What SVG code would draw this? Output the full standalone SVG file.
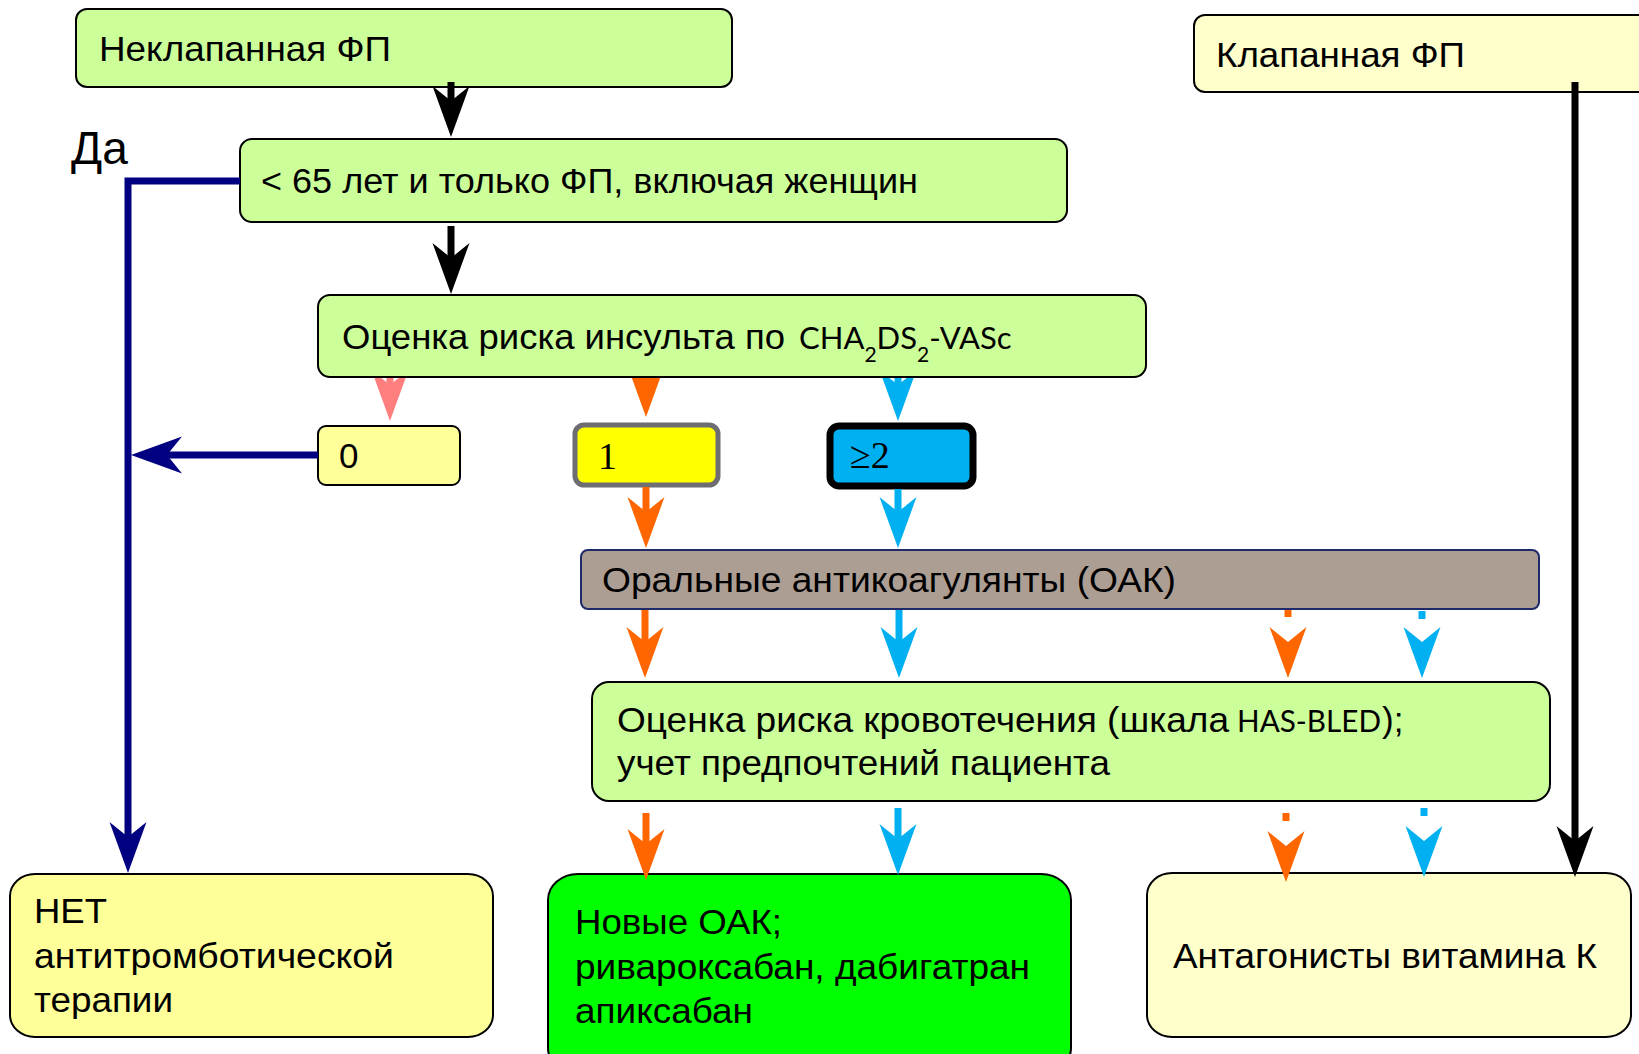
<svg xmlns="http://www.w3.org/2000/svg" width="1639" height="1054" viewBox="0 0 1639 1054">
<style>
.t{font-family:"Liberation Sans",Arial,sans-serif;font-size:35px;fill:#000}
.c{font-family:Lato,"Open Sans",sans-serif;font-size:31px;fill:#000}
.s{font-family:"Liberation Serif","Times New Roman",serif;font-size:38px;fill:#000}
.box{stroke:#000;stroke-width:2}
.g{fill:#ccff99}
.ly{fill:#ffff99}
.cr{fill:#ffffcc}
.ln{fill:none;stroke-width:7}
</style>
<defs>
<marker id="hk" markerUnits="userSpaceOnUse" viewBox="-16 -20 53 40" markerWidth="53" markerHeight="40" refX="0" refY="0" orient="auto"><path d="M36 0 L-15 -18.5 L0 0 L-15 18.5 Z" fill="#000"/></marker>
<marker id="hn" markerUnits="userSpaceOnUse" viewBox="-16 -20 53 40" markerWidth="53" markerHeight="40" refX="0" refY="0" orient="auto"><path d="M36 0 L-15 -18.5 L0 0 L-15 18.5 Z" fill="#000080"/></marker>
<marker id="ho" markerUnits="userSpaceOnUse" viewBox="-16 -20 53 40" markerWidth="53" markerHeight="40" refX="0" refY="0" orient="auto"><path d="M36 0 L-15 -18.5 L0 0 L-15 18.5 Z" fill="#ff6600"/></marker>
<marker id="hb" markerUnits="userSpaceOnUse" viewBox="-16 -20 53 40" markerWidth="53" markerHeight="40" refX="0" refY="0" orient="auto"><path d="M36 0 L-15 -18.5 L0 0 L-15 18.5 Z" fill="#00b0f0"/></marker>
<marker id="hp" markerUnits="userSpaceOnUse" viewBox="-16 -20 53 40" markerWidth="53" markerHeight="40" refX="0" refY="0" orient="auto"><path d="M36 0 L-15 -18.5 L0 0 L-15 18.5 Z" fill="#ff7f7f"/></marker>
<clipPath id="below3"><rect x="0" y="378" width="1639" height="60"/></clipPath>
</defs>

<g id="n-neklap"><rect class="box g" x="76" y="9" width="656" height="78" rx="11"/><text class="t" x="99" y="61" textLength="292" lengthAdjust="spacingAndGlyphs">Неклапанная ФП</text></g>
<g id="n-klap"><rect class="box cr" x="1194" y="15" width="460" height="77" rx="11"/><text class="t" x="1216" y="67" textLength="249" lengthAdjust="spacingAndGlyphs">Клапанная ФП</text></g>
<g id="n-age"><rect class="box g" x="240" y="139" width="827" height="83" rx="12"/><text class="t" x="261" y="193" textLength="657" lengthAdjust="spacingAndGlyphs">&lt; 65 лет и только ФП, включая женщин</text></g>
<g id="n-da"><text class="t" x="71" y="164" style="font-size:46px">Да</text></g>
<g id="n-cha"><rect class="box g" x="318" y="295" width="828" height="82" rx="12"/><text class="t" x="342" y="349" textLength="443" lengthAdjust="spacingAndGlyphs">Оценка риска инсульта по</text><text class="c" x="799" y="349">CHA<tspan dy="13" style="font-size:21px">2</tspan><tspan dy="-13">DS</tspan><tspan dy="13" style="font-size:21px">2</tspan><tspan dy="-13">-VASc</tspan></text></g>
<g id="n-0"><rect class="box ly" x="318" y="426" width="142" height="59" rx="8"/><text class="t" x="339" y="468">0</text></g>
<g id="n-1"><rect x="575" y="425" width="143" height="60" rx="9" fill="#ffff00" stroke="#6d6d72" stroke-width="5"/><text class="s" x="598" y="469">1</text></g>
<g id="n-2"><rect x="830" y="426" width="143" height="60" rx="9" fill="#00b0f0" stroke="#000" stroke-width="7"/><text class="s" x="850" y="468">≥2</text></g>
<g id="n-oak"><rect x="581" y="550" width="958" height="59" rx="7" fill="#ad9e94" stroke="#1f2a6b" stroke-width="2"/><text class="t" x="602" y="592" textLength="574" lengthAdjust="spacingAndGlyphs">Оральные антикоагулянты (ОАК)</text></g>
<g id="n-has"><rect class="box g" x="592" y="682" width="958" height="119" rx="17"/><text class="t" x="617" y="732" textLength="612" lengthAdjust="spacingAndGlyphs">Оценка риска кровотечения (шкала</text><text class="c" x="1237" y="732" style="font-size:30px" textLength="144" lengthAdjust="spacingAndGlyphs">HAS-BLED</text><text class="t" x="1382" y="732">);</text><text class="t" x="617" y="775" textLength="493" lengthAdjust="spacingAndGlyphs">учет предпочтений пациента</text></g>
<g id="n-net"><rect class="box ly" x="10" y="874" width="483" height="163" rx="25" ry="22"/><text class="t" x="34" y="923" textLength="73" lengthAdjust="spacingAndGlyphs">НЕТ</text><text class="t" x="34" y="968" textLength="360" lengthAdjust="spacingAndGlyphs">антитромботической</text><text class="t" x="34" y="1012" textLength="139" lengthAdjust="spacingAndGlyphs">терапии</text></g>
<g id="n-new"><rect class="box" fill="#00ff00" x="548" y="874" width="523" height="200" rx="30" ry="26"/><text class="t" x="575" y="934" textLength="207" lengthAdjust="spacingAndGlyphs">Новые ОАК;</text><text class="t" x="575" y="979" textLength="455" lengthAdjust="spacingAndGlyphs">ривароксабан, дабигатран</text><text class="t" x="575" y="1023" textLength="178" lengthAdjust="spacingAndGlyphs">апиксабан</text></g>
<g id="n-vka"><rect class="box cr" x="1147" y="873" width="484" height="164" rx="25" ry="22"/><text class="t" x="1173" y="968" textLength="424" lengthAdjust="spacingAndGlyphs">Антагонисты витамина К</text></g>

<g id="connectors">
<path class="ln" stroke="#000" d="M451 82 V101" marker-end="url(#hk)"/>
<path class="ln" stroke="#000" d="M451 226 V258" marker-end="url(#hk)"/>
<path class="ln" stroke="#000080" d="M240 181 H128 V837" marker-end="url(#hn)"/>
<path class="ln" stroke="#000080" d="M318 455 H167" marker-end="url(#hn)"/>
<path class="ln" stroke="#000" d="M1575 82 V841" marker-end="url(#hk)"/>
<g clip-path="url(#below3)">
<path class="ln" stroke="#ff7f7f" d="M390 370 V385" marker-end="url(#hp)"/>
<path class="ln" stroke="#ff6600" d="M646 370 V381" marker-end="url(#ho)"/>
<path class="ln" stroke="#00b0f0" d="M898 370 V385" marker-end="url(#hb)"/>
</g>
<path class="ln" stroke="#ff6600" d="M646 487 V512" marker-end="url(#ho)"/>
<path class="ln" stroke="#00b0f0" d="M898 489 V512" marker-end="url(#hb)"/>
<path class="ln" stroke="#ff6600" d="M645 610 V642" marker-end="url(#ho)"/>
<path class="ln" stroke="#00b0f0" d="M899 610 V642" marker-end="url(#hb)"/>
<path class="ln" stroke="#ff6600" stroke-dasharray="7 60" d="M1288 610 V642" marker-end="url(#ho)"/>
<path class="ln" stroke="#00b0f0" stroke-dasharray="8 60" d="M1422 611 V642" marker-end="url(#hb)"/>
<path class="ln" stroke="#ff6600" d="M646 813 V844" marker-end="url(#ho)"/>
<path class="ln" stroke="#00b0f0" d="M898 808 V839" marker-end="url(#hb)"/>
<path class="ln" stroke="#ff6600" stroke-dasharray="8 60" d="M1286 813 V846" marker-end="url(#ho)"/>
<path class="ln" stroke="#00b0f0" stroke-dasharray="8 60" d="M1424 808 V841" marker-end="url(#hb)"/>
</g>
</svg>
